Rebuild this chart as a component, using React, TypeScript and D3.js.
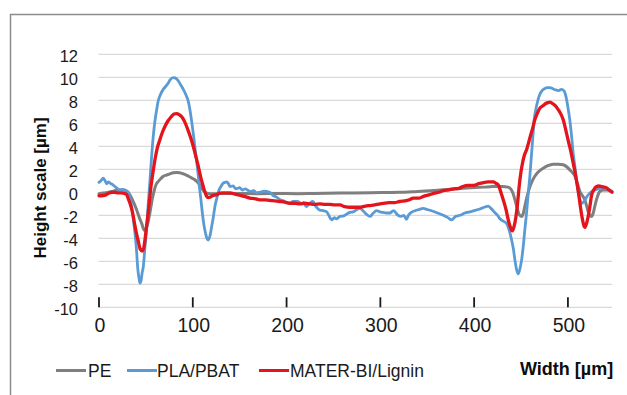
import * as d3 from "d3";

// Profile data (width in µm, height in µm)
const peWidth = [0, 5, 10, 15, 20, 25, 29.5, 32, 34.8, 37, 40, 43, 45.5, 48.3, 50, 52, 54, 55.4, 57, 59, 61, 63.3, 66, 68.6, 72, 75.7, 79, 82.8, 86, 89.9, 93, 97, 101, 104.2, 107, 109.5, 112, 114.8, 118, 123.6, 132.5, 150, 170, 190, 210, 230, 257, 290, 320, 340, 356, 375, 392, 410, 420, 430, 436, 439, 441.5, 443.5, 446, 448, 450.6, 452.5, 454, 456, 459.5, 462, 464.7, 468, 473.6, 478, 484.3, 490, 495, 499, 502, 505, 507.5, 510, 512.8, 515.5, 518, 520, 521.6, 523.5, 525, 527, 528.6, 531, 534, 538, 541, 544, 547];
const peHeight = [-0.13, -0.05, 0, 0.1, 0.2, 0.2, 0.1, -0.1, -0.5, -0.9, -1.5, -2.2, -2.7, -3.3, -3.2, -2.7, -1.9, -1.24, -0.5, 0.2, 0.7, 0.95, 1.2, 1.4, 1.5, 1.6, 1.7, 1.73, 1.7, 1.6, 1.5, 1.33, 1.15, 0.95, 0.7, 0.37, 0.1, -0.07, -0.12, -0.13, -0.1, -0.1, -0.12, -0.1, -0.12, -0.1, -0.07, -0.03, 0, 0.08, 0.15, 0.27, 0.37, 0.45, 0.5, 0.5, 0.45, 0.3, -0.1, -0.65, -1.4, -1.95, -2.1, -1.8, -1.24, -0.5, 0.5, 1.0, 1.4, 1.75, 2.1, 2.3, 2.45, 2.45, 2.4, 2.2, 1.95, 1.7, 1.4, 0.8, 0.07, -0.3, -0.65, -1.2, -1.7, -2.0, -2.1, -1.8, -1.24, -0.5, 0.07, 0.2, 0.2, 0.15, 0.07];

const pbatWidth = [0, 2, 4.6, 6.5, 8.2, 10, 11.7, 14, 17, 20, 22.4, 25, 27.7, 31, 33, 34.8, 36.5, 38.4, 40, 41.2, 42.5, 43.7, 45, 46, 47.2, 49, 50.9, 52.5, 54.4, 56, 57.9, 59.5, 61.5, 63, 65, 68.5, 71, 73.9, 76, 79.2, 81, 84.5, 87, 89.9, 92.5, 95.2, 97.5, 99.5, 101.3, 103, 105, 106.6, 108.5, 110.2, 112, 113.7, 115, 116.5, 118.3, 120.1, 122, 123.6, 126, 128, 130, 132.5, 134, 136, 138, 139.7, 143, 146, 150, 153, 156, 161, 165, 168, 171.6, 176, 182, 186, 189, 193, 197, 200, 203.6, 207, 212, 216, 218, 221, 224, 228, 231, 235.5, 239, 242.8, 245, 248, 251, 253, 257, 261, 264, 267.6, 271, 275, 278, 281.5, 285, 289, 292, 296, 299.6, 303, 306.7, 310, 314, 318.8, 322, 325, 327.7, 330, 333, 337, 341, 345.7, 350, 356, 361, 367, 372, 376, 380, 385, 390, 395.5, 400, 406, 411, 415, 418, 422, 425, 427.5, 431, 434.6, 437, 440, 442, 443.5, 445.5, 447, 449, 450.6, 452.5, 454, 456, 457.7, 459.5, 461, 462.5, 464, 466, 468, 470, 472, 475, 478, 481, 484, 487, 490, 493, 496, 498, 500, 502, 504, 505.6, 507.5, 509, 511, 513, 514.6, 516, 518, 520.5, 523.5, 527, 530.6, 534, 537.6, 541, 544, 547];
const pbatHeight = [0.86, 1.0, 1.24, 1.0, 0.74, 0.9, 0.8, 0.7, 0.5, 0.3, 0.2, 0.25, 0.2, 0, -0.5, -1.24, -2.3, -3.6, -5.0, -6.5, -7.4, -7.9, -7.6, -7.0, -6.5, -4.8, -3.0, -1.0, 1.1, 3.0, 4.9, 6.1, 7.2, 7.9, 8.4, 8.95, 9.2, 9.5, 9.8, 9.97, 9.95, 9.7, 9.35, 8.95, 8.5, 7.9, 6.9, 5.75, 4.6, 3.4, 2.1, 0.8, -0.5, -1.8, -2.9, -3.6, -4.0, -4.15, -3.8, -3.0, -2.1, -1.24, -0.4, 0.2, 0.5, 0.8, 0.85, 0.9, 0.75, 0.5, 0.55, 0.3, 0.4, 0.2, 0.3, 0.07, 0.15, -0.05, 0, 0.1, 0, -0.3, -0.4, -0.65, -0.75, -0.9, -0.95, -0.8, -0.8, -1.0, -0.9, -1.24, -1.0, -0.8, -1.2, -1.55, -1.6, -1.7, -2.0, -2.4, -2.2, -2.3, -2.1, -2.05, -1.9, -1.75, -1.7, -1.5, -1.4, -1.6, -1.9, -2.1, -1.85, -1.6, -1.7, -1.75, -1.8, -1.8, -1.6, -2.0, -2.1, -2.0, -2.35, -2.0, -1.75, -1.6, -1.5, -1.4, -1.5, -1.65, -1.8, -2.0, -2.2, -2.4, -2.1, -2.0, -1.8, -1.7, -1.6, -1.45, -1.3, -1.2, -1.4, -1.75, -2.0, -2.3, -2.5, -2.7, -3.2, -4.15, -5.0, -5.9, -6.8, -7.1, -6.6, -5.9, -4.6, -3.3, -1.7, -0.07, 1.5, 3.1, 4.7, 6.3, 7.3, 8.0, 8.5, 8.8, 9.0, 9.1, 9.1, 9.0, 8.9, 8.85, 8.95, 8.8, 8.3, 7.4, 6.3, 4.8, 3.4, 2.2, 1.1, 0, -0.7, -0.95, -0.9, -0.7, -0.35, -0.07, 0.15, 0.25, 0.35, 0.4, 0.3, 0.2, 0.07];

const ligninWidth = [0, 3, 6.4, 10, 13.5, 17, 20, 24, 27, 29.5, 31, 33, 35, 36.6, 38.3, 40, 42, 43.7, 45, 46.5, 47.8, 49, 50.5, 52, 53.7, 55.4, 57.5, 59.7, 62, 65, 67.5, 70.4, 73.5, 76.8, 80, 82.8, 85.5, 88.8, 91.5, 94.5, 97.5, 100.5, 103, 105.9, 108.5, 111.2, 113, 114.8, 116.5, 118.3, 121, 125.5, 129, 132.5, 139.7, 145, 150, 155, 161, 166, 171.6, 177, 182, 188, 193, 198, 203.6, 209, 214, 219, 224.7, 230, 235.5, 241, 246, 251, 257, 262, 267.6, 273, 278, 284, 289, 294, 299.6, 305, 310, 315, 320.5, 326, 331, 335, 341.5, 346, 352, 357, 362.5, 367, 373, 378, 383.7, 388, 392.6, 399.5, 405, 410, 415, 420.6, 423, 426, 428.5, 431, 434, 436.4, 438.5, 440.6, 442.5, 444.6, 446.5, 448, 450, 451.6, 453.5, 455.9, 458, 460, 462.5, 464.7, 467, 470, 473, 476, 478.5, 481, 484, 487, 490, 492.5, 495, 497.5, 500, 503, 505.6, 507.5, 509, 511, 512.8, 514.3, 515.6, 517, 518, 519.5, 521.6, 523.5, 525, 527.5, 530.6, 533, 536, 541, 544, 547];
const ligninHeight = [-0.3, -0.3, -0.25, -0.1, 0, 0, -0.05, -0.05, -0.1, -0.2, -0.5, -0.95, -1.5, -2.1, -2.9, -3.6, -4.3, -4.9, -5.05, -5.1, -4.8, -4.15, -3.1, -2.1, -0.8, 0.5, 1.7, 2.85, 3.8, 4.6, 5.2, 5.75, 6.2, 6.55, 6.8, 6.85, 6.75, 6.5, 6.1, 5.5, 4.8, 4.0, 3.2, 2.25, 1.3, 0.5, 0, -0.35, -0.45, -0.43, -0.3, -0.2, -0.07, -0.05, -0.05, -0.15, -0.25, -0.35, -0.5, -0.55, -0.65, -0.65, -0.7, -0.75, -0.8, -0.85, -0.95, -0.95, -1.0, -0.95, -1.0, -1.05, -1.0, -1.05, -1.05, -1.1, -1.1, -1.25, -1.3, -1.3, -1.3, -1.2, -1.15, -1.1, -1.0, -0.95, -0.9, -0.9, -0.8, -0.75, -0.65, -0.5, -0.5, -0.35, -0.22, -0.1, 0, 0.15, 0.22, 0.3, 0.35, 0.5, 0.6, 0.6, 0.75, 0.85, 0.9, 0.9, 0.8, 0.6, 0, -0.65, -1.5, -2.4, -3.0, -3.35, -3.0, -2.1, -0.8, 0.5, 1.8, 2.55, 3.2, 3.7, 4.3, 4.9, 5.6, 6.3, 6.8, 7.3, 7.5, 7.7, 7.8, 7.85, 7.7, 7.5, 7.15, 6.8, 6.3, 5.5, 4.6, 3.6, 2.55, 1.8, 1.1, 0.1, -0.95, -1.8, -2.4, -2.9, -3.05, -2.8, -2.1, -1.2, -0.35, 0.2, 0.5, 0.55, 0.5, 0.4, 0.2, 0];

const seriesNames = ["PE", "PLA/PBAT", "MATER-BI/Lignin"];
const seriesColors = ["#7f7f7f", "#5b9bd5", "#e3141b"];
const yTicks = [12, 10, 8, 6, 4, 2, 0, -2, -4, -6, -8, -10];
const xTicks = [0, 100, 200, 300, 400, 500];

const W = 627;
const H = 395;

export default function App() {
  const x = d3.scaleLinear().domain([0, 547]).range([99, 612]);
  const y = d3.scaleLinear().domain([-10, 12]).range([307.3, 54.3]);

  const line = d3
    .line<[number, number]>()
    .x((d) => x(d[0]))
    .y((d) => y(d[1]))
    .curve(d3.curveMonotoneX);

  const series = [
    { xs: peWidth, ys: peHeight, width: 3 },
    { xs: pbatWidth, ys: pbatHeight, width: 2.8 },
    { xs: ligninWidth, ys: ligninHeight, width: 3.3 },
  ];

  // legend layout: line start, text start
  const legendItems = [
    { x0: 56, tx: 88 },
    { x0: 127, tx: 157 },
    { x0: 259, tx: 290 },
  ];

  return (
    <svg
      width={W}
      height={H}
      style={{ position: "absolute", left: 0, top: 0, background: "#fff" }}
      fontFamily="'Liberation Sans', Arial, sans-serif"
    >
      <rect x={10.5} y={14.5} width={700} height={450} fill="none" stroke="#8c8c8c" strokeWidth={1.5} />

      {/* Gridlines */}
      {yTicks.map((t) => (
        <line key={t} x1={x(0) - 0.5} x2={x(547)} y1={y(t)} y2={y(t)} stroke="#d9d9d9" strokeWidth={1.3} />
      ))}

      {/* Y tick labels */}
      {yTicks.map((t) => (
        <text key={t} x={78} y={y(t) + 7.5} textAnchor="end" fontSize={16.5} fill="#1a1a1a">
          {t}
        </text>
      ))}

      {/* X ticks and labels */}
      {xTicks.map((t) => (
        <g key={t}>
          <line x1={x(t)} x2={x(t)} y1={y(-10) - 10} y2={y(-10)} stroke="#1a1a1a" strokeWidth={1.8} />
          <text x={x(t) + 1} y={332} textAnchor="middle" fontSize={19.5} fill="#1a1a1a">
            {t}
          </text>
        </g>
      ))}

      {/* Series */}
      {series.map((s, i) => (
        <path
          key={seriesNames[i]}
          d={line(s.xs.map((v, j) => [v, s.ys[j]] as [number, number])) || ""}
          fill="none"
          stroke={seriesColors[i]}
          strokeWidth={s.width}
          strokeLinejoin="round"
          strokeLinecap="round"
        />
      ))}

      {/* Axis titles */}
      <text
        transform={`translate(46, ${188}) rotate(-90)`}
        textAnchor="middle"
        fontSize={17}
        fontWeight="bold"
        fill="#0d0d0d"
      >
        Height scale [µm]
      </text>
      <text x={520} y={375} fontSize={18} fontWeight="bold" fill="#0d0d0d">
        Width [µm]
      </text>

      {/* Legend */}
      {legendItems.map((it, i) => (
        <g key={seriesNames[i]}>
          <line x1={it.x0} x2={it.x0 + 30} y1={370.5} y2={370.5} stroke={seriesColors[i]} strokeWidth={3} />
          <text x={it.tx} y={376.5} fontSize={17.5} fill="#1a1a1a">
            {seriesNames[i]}
          </text>
        </g>
      ))}
    </svg>
  );
}
